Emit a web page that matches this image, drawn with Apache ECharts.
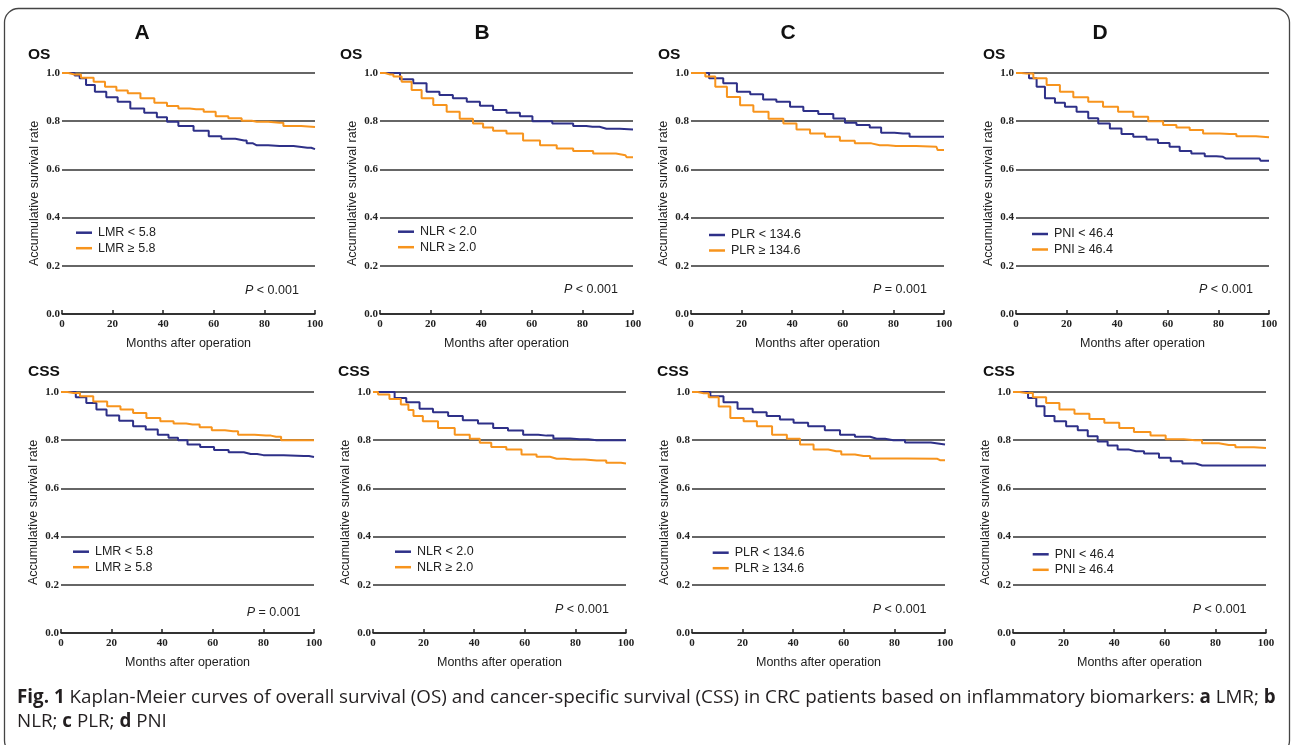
<!DOCTYPE html>
<html><head><meta charset="utf-8">
<script src="https://cdn.jsdelivr.net/npm/echarts@6/dist/echarts.min.js"></script>
<style>html,body{margin:0;padding:0;background:#fff}#c{width:1292px;height:745px}</style>
</head><body><div id="c"></div>
<script>
// ---------- DATA ----------
const xTicks = [0, 20, 40, 60, 80, 100];
const yTicks = [0, 0.2, 0.4, 0.6, 0.8, 1.0];
const columnTitles = ['A', 'B', 'C', 'D'];
const rowTitles = ['OS', 'CSS'];
const groupLow = ['LMR < 5.8', 'NLR < 2.0', 'PLR < 134.6', 'PNI < 46.4'];
const groupHigh = ['LMR \u2265 5.8', 'NLR \u2265 2.0', 'PLR \u2265 134.6', 'PNI \u2265 46.4'];
const pOS = ['< 0.001', '< 0.001', '= 0.001', '< 0.001'];
const pCSS = ['= 0.001', '< 0.001', '< 0.001', '< 0.001'];

// [months, survival]
const lmrOsLow = [[0,1],[4,1],[6,0.99],[8,0.978],[11,0.95],[15,0.922],[20,0.899],[24,0.881],[30,0.853],[35,0.835],[40,0.816],[43,0.798],[49,0.78],[55,0.76],[61,0.738],[65,0.727],[72,0.72],[74,0.708],[77,0.70],[86,0.697],[97,0.69],[100,0.684]];
const lmrOsHigh = [[0,1],[5,0.994],[10,0.98],[15,0.964],[19,0.943],[24,0.927],[28,0.916],[34,0.895],[39,0.877],[44,0.863],[48,0.853],[53,0.85],[59,0.839],[62.5,0.821],[69,0.812],[73,0.802],[77,0.798],[86,0.794],[89,0.78],[100,0.776]];
const lmrCssLow = [[0,1],[3.7,1],[8,0.978],[12,0.954],[16,0.927],[20,0.903],[26,0.881],[31,0.858],[36,0.844],[40.5,0.823],[44.5,0.81],[48,0.80],[52,0.782],[58,0.772],[63,0.759],[69.5,0.75],[75,0.743],[80,0.738],[96,0.734],[100,0.73]];
const lmrCssHigh = [[0,1],[5,0.996],[10,0.982],[15.5,0.961],[21,0.941],[26,0.927],[31,0.913],[36.5,0.892],[42,0.879],[47,0.869],[52,0.865],[57.6,0.854],[61.6,0.841],[68,0.837],[72,0.823],[81,0.819],[85,0.814],[89,0.80],[100,0.80]];
const nlrOsLow = [[0,1],[5.3,1],[10.5,0.974],[15.8,0.957],[21,0.922],[26,0.909],[31.6,0.895],[37,0.881],[42,0.864],[47.4,0.846],[52.6,0.835],[58,0.821],[62.5,0.80],[73.7,0.79],[79,0.78],[84,0.777],[89.5,0.769],[100,0.766]];
const nlrOsHigh = [[0,1],[4,0.994],[6.6,0.985],[10.5,0.964],[14.5,0.929],[18.4,0.895],[23.7,0.867],[29,0.839],[34,0.81],[39.5,0.79],[42,0.774],[47.4,0.76],[52.6,0.749],[60.5,0.72],[66,0.70],[73.7,0.687],[79,0.676],[89.5,0.666],[97,0.659],[98,0.65],[100,0.65]];
const nlrCssLow = [[0,1],[6.6,1],[10.5,0.975],[15.8,0.957],[21,0.93],[26.4,0.916],[33,0.90],[38,0.883],[45,0.869],[50,0.851],[56.7,0.84],[62,0.823],[68.6,0.819],[74,0.807],[81.8,0.804],[88.4,0.80],[100,0.80]];
const nlrCssHigh = [[0,1],[4,0.99],[9,0.971],[13,0.948],[15,0.925],[17,0.90],[22.4,0.879],[29,0.851],[35.6,0.823],[40.9,0.806],[43.5,0.789],[50,0.772],[55.4,0.761],[62,0.741],[67.3,0.731],[72.6,0.723],[79,0.72],[88.4,0.716],[96,0.706],[100,0.703]];
const plrOsLow = [[0,1],[4.3,1],[10,0.978],[15.5,0.957],[20.8,0.922],[26,0.912],[31,0.89],[36.5,0.881],[41.8,0.86],[47,0.842],[53.6,0.83],[58.9,0.811],[62.8,0.794],[68,0.784],[73.3,0.774],[77,0.752],[83.8,0.749],[89,0.735],[100,0.735]];
const plrOsHigh = [[0,1],[3.7,1],[7.6,0.985],[11.6,0.943],[16.8,0.90],[22,0.866],[27.3,0.839],[34,0.81],[39,0.79],[44.4,0.766],[49.7,0.749],[56.2,0.735],[61.5,0.719],[68,0.708],[74.6,0.70],[81,0.697],[97,0.694],[98,0.68],[100,0.68]];
const plrCssLow = [[0,1],[4.6,1],[9.9,0.982],[15,0.957],[21,0.93],[27,0.916],[32,0.90],[37.5,0.886],[42.8,0.872],[49,0.858],[56,0.841],[61,0.823],[67.8,0.814],[73,0.806],[79.6,0.80],[88.8,0.79],[100,0.782]];
const plrCssHigh = [[0,1],[4.6,0.995],[8.6,0.978],[12.5,0.94],[17.8,0.892],[23,0.879],[28.3,0.858],[35,0.823],[40,0.806],[45.4,0.782],[50.7,0.761],[57,0.754],[61,0.741],[67.8,0.734],[73,0.724],[97,0.723],[98,0.717],[100,0.717]];
const pniOsLow = [[0,1],[3.5,1],[6.8,0.978],[9.5,0.943],[13.4,0.895],[17.4,0.877],[21.3,0.86],[26.6,0.839],[30.5,0.812],[34.5,0.79],[39.7,0.77],[43.7,0.747],[49,0.735],[54.2,0.724],[58,0.71],[63.4,0.694],[66,0.676],[72.6,0.666],[76.6,0.655],[81.8,0.652],[83,0.645],[96.3,0.645],[97,0.636],[100,0.636]];
const pniOsHigh = [[0,1],[4.2,0.998],[9.5,0.978],[14.7,0.95],[20,0.922],[25.3,0.899],[31.8,0.881],[37,0.86],[43.7,0.839],[49,0.818],[55.5,0.80],[60.8,0.784],[66,0.774],[71.3,0.763],[76.6,0.749],[84.5,0.747],[89.7,0.738],[100,0.733]];
const pniCssLow = [[0,1],[4,1],[7.9,0.975],[10.5,0.941],[14.4,0.90],[18.4,0.879],[23.6,0.858],[27.6,0.841],[31.5,0.816],[35.4,0.795],[39.4,0.778],[43.3,0.761],[48.6,0.754],[55,0.745],[60.4,0.727],[64.3,0.713],[69.6,0.703],[74.8,0.695],[100,0.695]];
const pniCssHigh = [[0,1],[5.2,0.996],[10.5,0.978],[15.7,0.954],[21,0.927],[27.6,0.91],[32.8,0.888],[39.4,0.872],[44.6,0.851],[51,0.834],[57.7,0.819],[63,0.804],[72,0.80],[77.4,0.787],[85.3,0.78],[90.5,0.771],[100,0.768]];

const osLow = [lmrOsLow, nlrOsLow, plrOsLow, pniOsLow];
const osHigh = [lmrOsHigh, nlrOsHigh, plrOsHigh, pniOsHigh];
const cssLow = [lmrCssLow, nlrCssLow, plrCssLow, pniCssLow];
const cssHigh = [lmrCssHigh, nlrCssHigh, plrCssHigh, pniCssHigh];

// ---------- LAYOUT ----------
const BLUE = '#2e3088', ORANGE = '#f7941d', INK = '#222';
const rowTop = [73, 392];
const plotH = 241, plotW = 253;
const colLeft = [[62, 380, 691, 1016], [61, 373, 692, 1013]];
const legendPos = [[[76, 232.7], [398, 231.7], [709, 235], [1032, 234]],
                   [[73, 551.7], [395, 551.7], [712.7, 552.7], [1032.7, 554.3]]];
const pPos = [[[245, 291], [564, 290], [873, 290], [1199, 290]],
              [[246.7, 613], [555, 610], [872.7, 609.5], [1192.7, 610]]];
const rowLabelPos = [[[28, 55], [340, 55], [658, 55], [983, 55]],
                     [[28, 372], [338, 372], [657, 372], [983, 372]]];
const titleX = [142, 482, 788, 1100];

const grids = [], xAxes = [], yAxes = [], series = [], legends = [], graphics = [];
const serifFont = 'Liberation Serif';
const sansFont = 'Liberation Sans';

for (let r = 0; r < 2; r++) {
  for (let c = 0; c < 4; c++) {
    const idx = r * 4 + c;
    grids.push({ left: colLeft[r][c], top: rowTop[r], width: plotW, height: plotH });
    xAxes.push({
      type: 'value', gridIndex: idx, min: xTicks[0], max: xTicks[xTicks.length - 1], interval: 20,
      axisLine: { show: true, lineStyle: { color: INK, width: 1.5 } },
      axisTick: { show: true, inside: true, length: 4, lineStyle: { color: INK, width: 1.5 } },
      axisLabel: { margin: 5, fontFamily: serifFont, fontSize: 11, fontWeight: 'bold', color: INK },
      splitLine: { show: false },
      name: 'Months after operation', nameLocation: 'middle', nameGap: 23,
      nameTextStyle: { fontFamily: sansFont, fontSize: 12.5, color: INK }
    });
    yAxes.push({
      type: 'value', gridIndex: idx, min: yTicks[0], max: yTicks[yTicks.length - 1], interval: 0.2,
      axisLine: { show: false }, axisTick: { show: false },
      axisLabel: { margin: 2, fontFamily: serifFont, fontSize: 11, fontWeight: 'bold', color: INK,
        formatter: v => v.toFixed(1) },
      splitLine: { show: true, lineStyle: { color: '#333', width: 1.5 } },
      name: 'Accumulative survival rate', nameLocation: 'middle', nameGap: 21,
      nameTextStyle: { fontFamily: sansFont, fontSize: 12.5, color: INK }
    });
    const lowData = r === 0 ? osLow[c] : cssLow[c];
    const highData = r === 0 ? osHigh[c] : cssHigh[c];
    series.push({ type: 'line', name: groupLow[c], xAxisIndex: idx, yAxisIndex: idx, data: lowData,
      step: 'middle', symbol: 'none', lineStyle: { color: BLUE, width: 2 }, itemStyle: { color: BLUE }, z: 3 });
    series.push({ type: 'line', name: groupHigh[c], xAxisIndex: idx, yAxisIndex: idx, data: highData,
      step: 'middle', symbol: 'none', lineStyle: { color: ORANGE, width: 2 }, itemStyle: { color: ORANGE }, z: 3 });
    const lp = legendPos[r][c];
    legends.push({
      data: [groupLow[c], groupHigh[c]], orient: 'vertical', left: lp[0], top: lp[1] - 7,
      icon: 'rect', itemWidth: 16, itemHeight: 2.5, itemGap: 1.5, padding: 0, selectedMode: false,
      textStyle: { fontFamily: sansFont, fontSize: 12.5, color: INK, lineHeight: 14, padding: [0, 0, 0, 1] }
    });
    const pp = pPos[r][c];
    graphics.push({ type: 'text', x: pp[0], y: pp[1], style: {
      text: '{i|P} ' + (r === 0 ? pOS[c] : pCSS[c]),
      fontFamily: sansFont, fontSize: 12.5, fill: INK, verticalAlign: 'middle',
      rich: { i: { fontStyle: 'italic', fontFamily: sansFont, fontSize: 12.5, fill: INK } } } });
    const rl = rowLabelPos[r][c];
    graphics.push({ type: 'text', x: rl[0], y: rl[1], style: {
      text: rowTitles[r], fontFamily: sansFont, fontSize: 15.5, fontWeight: 'bold', fill: '#111', verticalAlign: 'middle' } });
  }
}
for (let c = 0; c < 4; c++) {
  graphics.push({ type: 'text', x: titleX[c], y: 33, style: {
    text: columnTitles[c], fontFamily: sansFont, fontSize: 21, fontWeight: 'bold', fill: '#111',
    align: 'center', verticalAlign: 'middle' } });
}
// caption
const capSize = 18.8;
const capRich = { b: { fontWeight: 'bold', fontFamily: 'Open Sans', fontSize: capSize, fill: '#231f20' } };
graphics.push({ type: 'text', x: 17, y: 698, style: {
  text: '{b|Fig. 1} Kaplan-Meier curves of overall survival (OS) and cancer-specific survival (CSS) in CRC patients based on inflammatory biomarkers: {b|a} LMR; {b|b}',
  fontFamily: 'Open Sans', fontSize: capSize, fill: '#231f20', verticalAlign: 'middle', rich: capRich } });
graphics.push({ type: 'text', x: 17, y: 722, style: {
  text: 'NLR; {b|c} PLR; {b|d} PNI',
  fontFamily: 'Open Sans', fontSize: capSize, fill: '#231f20', verticalAlign: 'middle', rich: capRich } });
// frame
graphics.push({ type: 'rect', shape: { x: 4.5, y: 8.5, width: 1285, height: 746, r: 14 },
  style: { fill: 'none', stroke: '#444', lineWidth: 1.3 }, silent: true });

const chart = echarts.init(document.getElementById('c'), null, { renderer: 'canvas' });
chart.setOption({
  backgroundColor: '#fff', animation: false,
  grid: grids, xAxis: xAxes, yAxis: yAxes, series: series, legend: legends, graphic: graphics
});
</script></body></html>
